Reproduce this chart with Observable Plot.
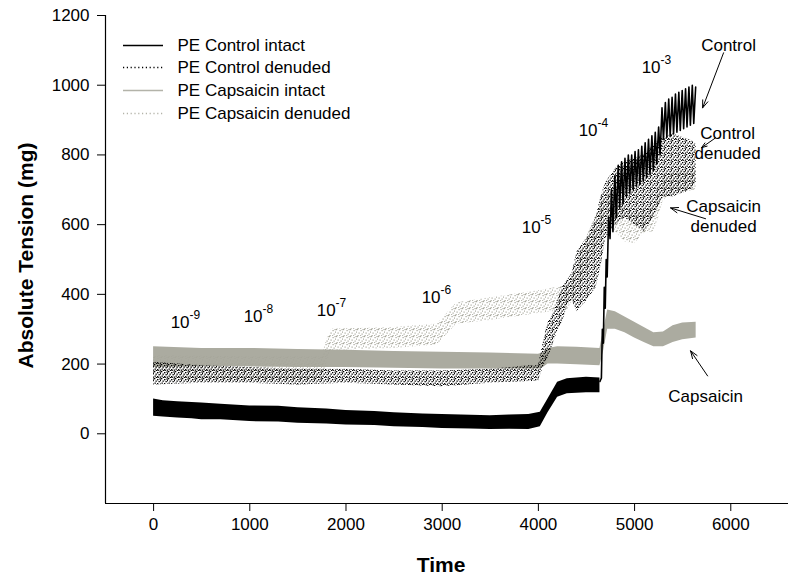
<!DOCTYPE html>
<html><head><meta charset="utf-8">
<script src="https://cdn.jsdelivr.net/npm/d3@7"></script>
<script src="https://cdn.jsdelivr.net/npm/@observablehq/plot@0.6"></script>
<style>body{margin:0;background:#fff} svg{display:block}</style>
</head><body><div id="chart"></div>
<script>
// ---------- data ----------
const xTicks = [0, 1000, 2000, 3000, 4000, 5000, 6000];
const yTicks = [0, 200, 400, 600, 800, 1000, 1200];

// PE Control intact: noisy band before the 10^-4 jump
const ctrlIntactT  = [0, 100, 250, 400, 500, 700, 1000, 1300, 1500, 1800, 2000, 2300, 2500, 2800, 3000, 3300, 3500, 3700, 3900, 4020, 4100, 4200, 4300, 4500, 4640];
const ctrlIntactLo = [50, 48, 45, 43, 40, 40, 35, 34, 30, 28, 25, 24, 20, 18, 15, 14, 12, 13, 12, 20, 60, 105, 115, 118, 118];
const ctrlIntactHi = [100, 95, 92, 90, 88, 85, 80, 79, 75, 71, 67, 64, 60, 57, 55, 53, 52, 54, 55, 62, 100, 148, 158, 162, 160];
// PE Control intact: oscillating trace after the jump
const ctrlOscT = [4640, 4655, 4665, 4675, 4685, 4695, 4705, 4715, 4730, 4745, 4760, 4775, 4795, 4810, 4830, 4845, 4865, 4880, 4900, 4915, 4935, 4950, 4970, 4985, 5005, 5020, 5040, 5055, 5075, 5090, 5110, 5125, 5145, 5160, 5180, 5195, 5215, 5230, 5250, 5265, 5285, 5300, 5320, 5335, 5355, 5370, 5390, 5405, 5425, 5440, 5460, 5475, 5495, 5510, 5530, 5545, 5565, 5580, 5600, 5615, 5635];
const ctrlOscV = [150, 160, 300, 260, 420, 360, 500, 450, 620, 560, 700, 580, 740, 620, 770, 650, 780, 660, 790, 680, 800, 690, 800, 700, 810, 710, 815, 715, 825, 725, 835, 735, 845, 745, 855, 755, 865, 775, 880, 800, 935, 845, 950, 850, 960, 855, 965, 860, 975, 865, 980, 870, 985, 875, 990, 880, 995, 885, 1000, 890, 995];

// PE Control denuded (dotted scatter band)
const ctrlDenT  = [0, 500, 1000, 1500, 2000, 2500, 3000, 3500, 3900, 4000, 4050, 4100, 4150, 4200, 4250, 4300, 4350, 4400, 4500, 4600, 4650, 4700, 4800, 4900, 5000, 5100, 5200, 5300, 5400, 5500, 5600, 5640];
const ctrlDenLo = [140, 145, 145, 140, 145, 140, 135, 145, 150, 150, 190, 215, 255, 295, 320, 365, 385, 350, 380, 420, 480, 560, 600, 620, 600, 580, 620, 680, 680, 690, 700, 720];
const ctrlDenHi = [205, 195, 190, 185, 185, 180, 180, 185, 195, 195, 260, 320, 340, 380, 420, 440, 460, 520, 560, 620, 680, 720, 760, 780, 790, 800, 830, 850, 860, 850, 840, 830];

// PE Capsaicin intact (solid grey band)
const capIntT  = [0, 500, 1000, 1500, 2000, 2500, 3000, 3500, 4000, 4050, 4100, 4200, 4400, 4640, 4680, 4720, 4800, 4900, 5000, 5100, 5200, 5300, 5400, 5500, 5640];
const capIntLo = [190, 192, 192, 190, 190, 188, 186, 186, 186, 190, 200, 200, 198, 195, 240, 300, 300, 290, 275, 262, 250, 250, 262, 270, 275];
const capIntHi = [250, 245, 245, 242, 240, 236, 234, 232, 228, 232, 245, 250, 248, 245, 300, 355, 350, 335, 320, 305, 290, 292, 310, 318, 320];

// PE Capsaicin denuded (grey dotted scatter band)
const capDenT  = [0, 1000, 1750, 1800, 1850, 2500, 2950, 3050, 3150, 3500, 4000, 4300, 4400, 4500, 4600, 4700, 4800, 4900, 5000, 5100, 5200, 5250, 5300, 5450, 5640];
const capDenLo = [150, 150, 150, 200, 240, 245, 255, 285, 315, 325, 345, 355, 400, 460, 530, 590, 580, 550, 545, 575, 580, 620, 670, 690, 700];
const capDenHi = [225, 220, 220, 270, 300, 305, 315, 345, 375, 390, 410, 425, 480, 560, 630, 690, 680, 650, 630, 640, 650, 700, 740, 750, 760];

// concentration annotations 10^exp
const concExp = ["-9", "-8", "-7", "-6", "-5", "-4", "-3"];
const concT   = [374, 1133, 1892, 2983, 4023, 4615, 5270];
const concV   = [318, 336, 353, 390, 591, 869, 1050];

// curve labels and arrows
const curveLabels = ["Control", "Control\ndenuded", "Capsaicin\ndenuded", "Capsaicin"];
const curveLabelT = [5977, 5967, 5925, 5738];
const curveLabelV = [1116, 836, 626, 109];
const arrowT1 = [5925, 5842, 5738, 5759];
const arrowV1 = [1093, 849, 617, 166];
const arrowT2 = [5707, 5697, 5374, 5582];
const arrowV2 = [935, 821, 648, 238];

const legendNames = ["PE Control intact", "PE Control denuded", "PE Capsaicin intact", "PE Capsaicin denuded"];

// ---------- layout ----------
const W = 800, H = 581;
const mL = 105, mR = 12, mT = 15, mB = 78;
const xDom = [-500, 6600], yDom = [-200, 1200];
const px2x = px => xDom[0] + (px - mL) / (W - mL - mR) * (xDom[1] - xDom[0]);
const px2y = py => yDom[1] - (py - mT) / (H - mT - mB) * (yDom[1] - yDom[0]);

const band = (T, lo, hi) => T.map((t, i) => ({t, lo: lo[i], hi: hi[i]}));
const ctrlIntact = band(ctrlIntactT, ctrlIntactLo, ctrlIntactHi);
const ctrlDen = band(ctrlDenT, ctrlDenLo, ctrlDenHi);
const capInt = band(capIntT, capIntLo, capIntHi);
const capDen = band(capDenT, capDenLo, capDenHi);
const ctrlOsc = ctrlOscT.map((t, i) => ({t, v: ctrlOscV[i]}));
const conc = concExp.map((e, i) => ({e, t: concT[i], v: concV[i]}));
const labels = curveLabels.map((s, i) => ({s, t: curveLabelT[i], v: curveLabelV[i]}));
const arrows = arrowT1.map((t, i) => ({t1: t, v1: arrowV1[i], t2: arrowT2[i], v2: arrowV2[i]}));

const GREY = "#ababa0";
const legendRowsPx = [45, 67, 90, 113];
const legendStyles = [
  {stroke: "black", dash: null},
  {stroke: "black", dash: "1.2,2.6"},
  {stroke: "#b3b3a9", dash: null},
  {stroke: "#b3b3a9", dash: "1.2,2.6"}
];
const legendMarks = legendNames.flatMap((n, i) => [
  Plot.ruleY([px2y(legendRowsPx[i])], {x1: px2x(123), x2: px2x(163), stroke: legendStyles[i].stroke,
    strokeDasharray: legendStyles[i].dash, strokeWidth: 1.6}),
  Plot.text([n], {y: px2y(legendRowsPx[i]), x: px2x(177), textAnchor: "start", fontSize: 17})
]);

const chart = Plot.plot({
  width: W, height: H,
  marginLeft: mL, marginRight: mR, marginTop: mT, marginBottom: mB,
  style: {fontFamily: "Arial, 'Liberation Sans', sans-serif", fontSize: "17px", color: "black", background: "white"},
  x: {domain: xDom, ticks: xTicks},
  y: {domain: yDom, ticks: yTicks},
  marks: [
    Plot.areaY(capInt, {x: "t", y1: "lo", y2: "hi", fill: GREY}),
    Plot.areaY(capDen, {x: "t", y1: "lo", y2: "hi", fill: "url(#dotsG)"}),
    Plot.areaY(ctrlDen, {x: "t", y1: "lo", y2: "hi", fill: "url(#dotsK)"}),
    Plot.areaY(ctrlIntact, {x: "t", y1: "lo", y2: "hi", fill: "black"}),
    Plot.line(ctrlOsc, {x: "t", y: "v", stroke: "black", strokeWidth: 1.6}),
    Plot.ruleX([xDom[0]], {y1: yDom[0], y2: yDom[1], stroke: "black", strokeWidth: 1.2}),
    Plot.ruleY([yDom[0]], {x1: xDom[0], x2: xDom[1], stroke: "black", strokeWidth: 1.2}),
    Plot.axisX({ticks: xTicks, tickSize: 8, tickPadding: 6, tickFormat: d => String(d), label: null}),
    Plot.axisY({ticks: yTicks, tickSize: 8, tickPadding: 8, tickFormat: d => String(d), label: null}),
    Plot.text(["Absolute Tension (mg)"], {frameAnchor: "left", textAnchor: "middle", dx: -79, dy: -4, rotate: -90, fontSize: 21, fontWeight: "bold"}),
    Plot.text(["Time"], {frameAnchor: "bottom", lineAnchor: "middle", dx: -6, dy: 62, fontSize: 21, fontWeight: "bold"}),
    // concentrations
    Plot.text(conc, {x: "t", y: "v", text: () => "10", textAnchor: "end", fontSize: 17}),
    Plot.text(conc, {x: "t", y: "v", text: "e", textAnchor: "start", dy: -8, fontSize: 12}),
    // curve labels + arrows
    Plot.text(labels, {x: "t", y: "v", text: "s", fontSize: 17, lineHeight: 1.2}),
    Plot.arrow(arrows, {x1: "t1", y1: "v1", x2: "t2", y2: "v2", stroke: "black", strokeWidth: 1, headLength: 12, headAngle: 40}),
    ...legendMarks
  ]
});

const defs = d3.select(chart).insert("defs", ":first-child");
const pK = defs.append("pattern").attr("id", "dotsK").attr("width", 7).attr("height", 7).attr("patternUnits", "userSpaceOnUse");
[[0,0],[3,1],[5.5,0.5],[1.5,2.5],[4.5,3],[0.5,4.5],[3,5],[6,5.5],[2,6],[6,2],[4,6.2]].forEach(([x,y]) => pK.append("rect").attr("x", x).attr("y", y).attr("width", 1.3).attr("height", 1.3).attr("fill", "black"));
const pG = defs.append("pattern").attr("id", "dotsG").attr("width", 7).attr("height", 7).attr("patternUnits", "userSpaceOnUse");
[[0,0],[3.5,1],[6,2.5],[1.5,3.5],[4.5,4.5],[0.5,6],[3,6.2],[5.5,0]].forEach(([x,y]) => pG.append("rect").attr("x", x).attr("y", y).attr("width", 1.2).attr("height", 1.2).attr("fill", "#a6a69b"));

document.getElementById("chart").appendChild(chart);
</script></body></html>
